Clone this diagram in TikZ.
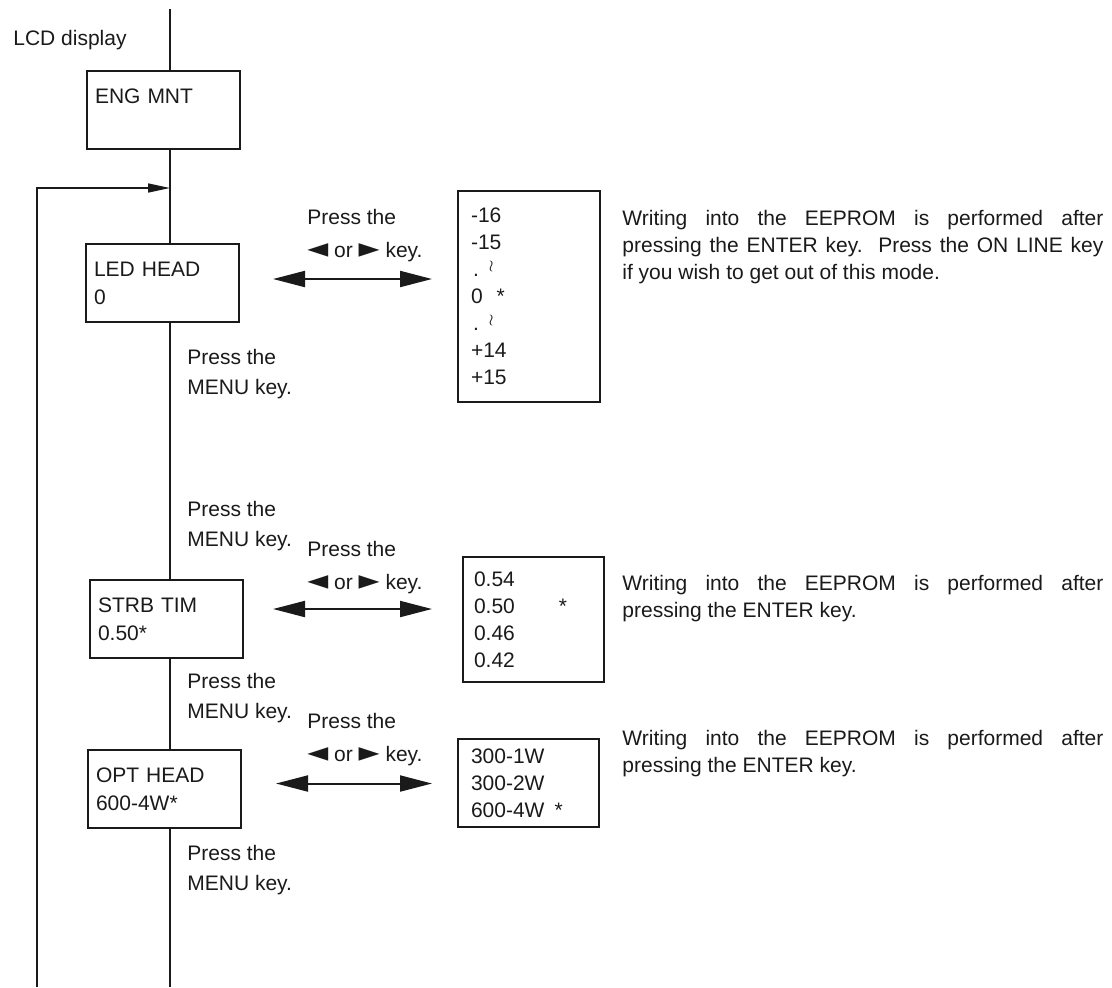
\documentclass[tikz,border=0pt]{standalone}
\usepackage{fontspec}
\usepackage{graphicx}
\setmainfont{Liberation Sans}
\newfontfamily\symfont{DejaVu Sans}
\usetikzlibrary{arrows.meta, positioning, calc}
\definecolor{lcdink}{HTML}{1A1A1A}
\newcommand{\presskeys}{Press the\\\scalebox{1.3}{\symfont ◄} or \scalebox{1.3}{\symfont ►} key.}
\newcommand{\pressmenu}{Press the\\MENU key.}
\newcommand{\skipmark}{\hspace{1pt}.\hspace{5pt}\raisebox{3pt}{\footnotesize$\wr$}}

\begin{document}
\begin{tikzpicture}[x=0.5pt, y=-0.5pt,
    every node/.style={inner sep=0pt, text=lcdink, font=\fontsize{10.5}{13.5}\selectfont},
    flowline/.style={draw=lcdink, line width=0.8pt},
    lcdbox/.style={draw=lcdink, line width=1pt, anchor=north west,
      minimum width=76.5pt, minimum height=39pt, text width=68.5pt,
      inner xsep=4pt, align=left, font=\fontsize{10.5}{14}\selectfont},
    valbox/.style={draw=lcdink, line width=1pt, anchor=north west, align=left},
    keyarrow/.style={draw=lcdink, line width=1pt,
      {Triangle[length=16pt,width=8pt]}-{Triangle[length=16pt,width=8pt]}},
    keylabel/.style={anchor=west, align=left, font=\fontsize{10.5}{16.5}\selectfont},
    menulabel/.style={anchor=west, align=left, font=\fontsize{10.5}{15}\selectfont},
    note/.style={anchor=west, text width=240.5pt, align=justify}
  ]
  \useasboundingbox (0,0) rectangle (1112,987);

  \node[anchor=west] (lcd) at (13,40) {LCD display};
  \coordinate (topend) at (170,9);
  \coordinate (join) at (170,188);
  \coordinate (mainbot) at (170,987);
  \coordinate (loopbot) at (37,987);

  \node[lcdbox] (eng) at (86,70) {ENG MNT\\\mbox{}};
  \node[lcdbox] (led) at (85,243) {LED HEAD\\0};
  \node[lcdbox] (strb) at (89,579) {STRB TIM\\0.50*};
  \node[lcdbox] (opt) at (87,749) {OPT HEAD\\600-4W*};

  \node[valbox, minimum width=71pt, minimum height=105.5pt,
    text width=58pt, inner xsep=6.5pt] (vals1) at (457,190)
    {-16\\-15\\\skipmark\\0\hspace{7pt}*\\\skipmark\\+14\\+15};
  \node[valbox, minimum width=70.5pt, minimum height=62.5pt,
    text width=59.5pt, inner xsep=5.5pt] (vals2) at (462,556)
    {0.54\\0.50\hspace{22pt}*\\0.46\\0.42};
  \node[valbox, minimum width=70.5pt, minimum height=44pt,
    text width=57.5pt, inner xsep=6.5pt] (vals3) at (457,738)
    {300-1W\\300-2W\\600-4W\hspace{5pt}*};

  \node[keylabel] (keys1) at (307,236) {\presskeys};
  \node[keylabel] (keys2) at (307,568) {\presskeys};
  \node[keylabel] (keys3) at (307,740) {\presskeys};

  \node[menulabel] (menu1) at (187,374) {\pressmenu};
  \node[menulabel] (menu2) at (187,526) {\pressmenu};
  \node[menulabel] (menu3) at (187,698) {\pressmenu};
  \node[menulabel] (menu4) at (187,870) {\pressmenu};

  \node[note] (note1) at (622,247) {Writing into the EEPROM is performed after\linebreak
    pressing the ENTER key.\ \ Press the ON LINE key\linebreak
    if you wish to get out of this mode.};
  \node[note] (note2) at (622,599) {Writing into the EEPROM is performed after\linebreak
    pressing the ENTER key.};
  \node[note] (note3) at (622,754) {Writing into the EEPROM is performed after\linebreak
    pressing the ENTER key.};

  \draw[flowline] (topend) -- (topend |- eng.north);
  \draw[flowline] (eng.south -| topend) -- (topend |- led.north);
  \draw[flowline] (led.south -| topend) -- (topend |- strb.north);
  \draw[flowline] (strb.south -| topend) -- (topend |- opt.north);
  \draw[flowline] (opt.south -| topend) -- (mainbot);
  \draw[flowline, -{Triangle[length=11pt,width=4.5pt]}] (loopbot) |- (join);

  \draw[keyarrow] ([xshift=16.5pt, yshift=2pt]led.east)
    -- ([xshift=-12.5pt, yshift=2pt]led.east -| vals1.west);
  \draw[keyarrow] ([xshift=14.5pt, yshift=5pt]strb.east)
    -- ([xshift=-15pt, yshift=5pt]strb.east -| vals2.west);
  \draw[keyarrow] ([xshift=17pt, yshift=2.75pt]opt.east)
    -- ([xshift=-12.5pt, yshift=2.75pt]opt.east -| vals3.west);
\end{tikzpicture}
\end{document}
